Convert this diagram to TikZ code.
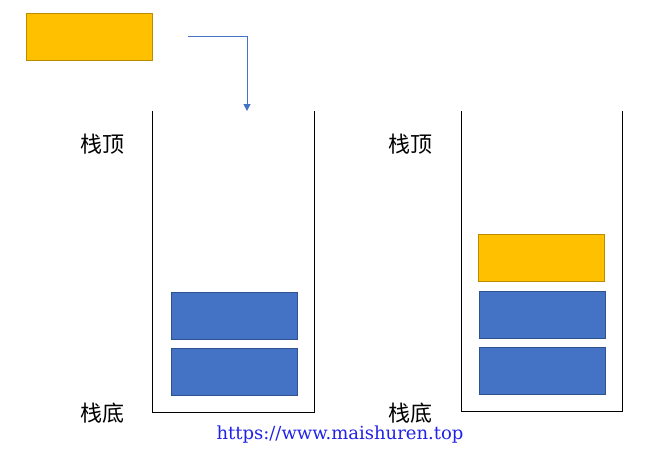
\documentclass[tikz,border=0pt]{standalone}
\usepackage{fontspec}
\newfontfamily\cjk{Noto Sans CJK SC}
\newfontfamily\urlfont{DejaVu Serif}
\usetikzlibrary{arrows.meta}
\definecolor{ygold}{HTML}{FFC000}
\definecolor{ygoldb}{HTML}{BC8C00}
\definecolor{sblue}{HTML}{4472C4}
\definecolor{sblueb}{HTML}{2F528F}
\definecolor{urlblue}{HTML}{2222E6}
\tikzset{
  ybox/.style={draw=ygoldb, fill=ygold, line width=0.8pt, minimum width=126pt, minimum height=47pt, inner sep=0pt},
  bbox/.style={draw=sblueb, fill=sblue, line width=0.8pt, minimum width=126pt, minimum height=47pt, inner sep=0pt},
  stackwall/.style={draw=black, line width=1pt},
  lbl/.style={font=\cjk\fontsize{22}{22}\selectfont, inner sep=0pt},
  flow/.style={draw=sblue, line width=1pt, -{Triangle[width=7pt,length=7pt]}}
}
\begin{document}
\begin{tikzpicture}[x=1pt,y=-1pt]
\useasboundingbox (0,0) rectangle (661,456);
% top yellow box
\node[ybox] (top) at (89,36.5) {};
\coordinate (astart) at (188,36);
\coordinate (aend) at (247,111);
\draw[flow] (astart) -| (aend);
% left stack
\draw[stackwall] (152,111) -- (152,412) -- (314,412) -- (314,111);
\node[bbox] (l1) at (234,315.5) {};
\node[bbox] (l2) at (234,371.5) {};
\node[lbl] (ltop) at (102,144) {栈顶};
\node[lbl] (lbot) at (102,413) {栈底};
% right stack
\draw[stackwall] (461,111) -- (461,411) -- (622,411) -- (622,111);
\node[ybox] (r3) at (541,257.5) {};
\node[bbox] (r2) at (542,314.5) {};
\node[bbox] (r1) at (542,370.5) {};
\node[lbl] (rtop) at (410,144) {栈顶};
\node[lbl] (rbot) at (410,413) {栈底};
% url
\node[font=\urlfont\fontsize{18}{18}\selectfont, text=urlblue, inner sep=0pt, anchor=base] (url) at (340,439.3) {https://www.maishuren.top};
\end{tikzpicture}
\end{document}
